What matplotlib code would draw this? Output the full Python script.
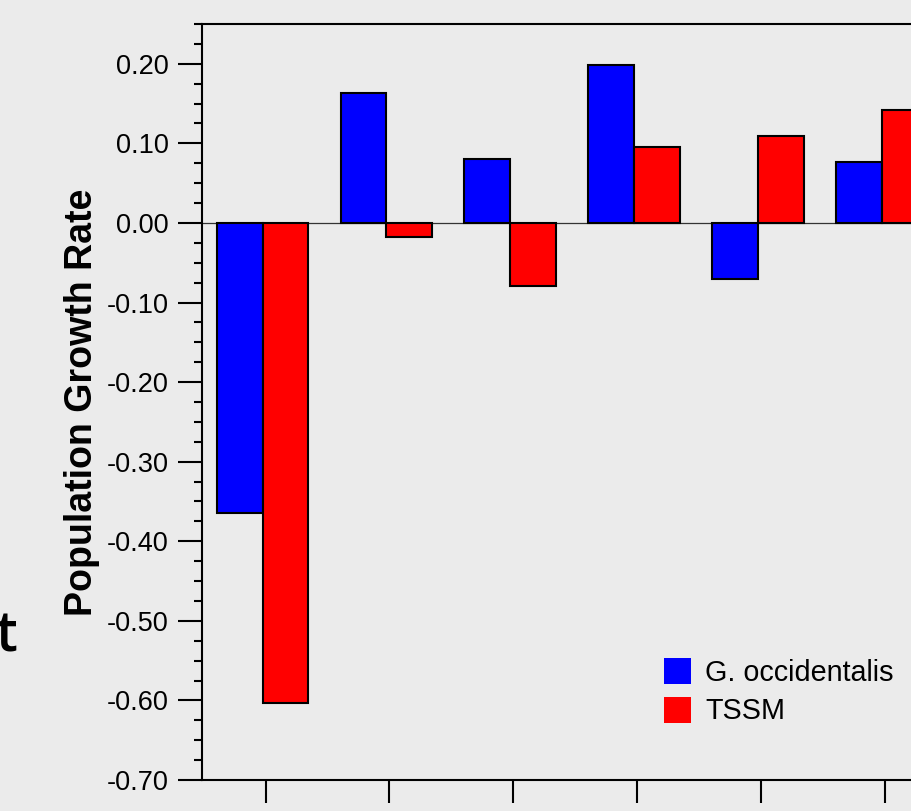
import matplotlib
matplotlib.use('Agg')
import matplotlib.pyplot as plt
from matplotlib.patches import Patch
from matplotlib.ticker import MultipleLocator, FormatStrFormatter
import numpy as np

plt.rcParams['font.family'] = ['Liberation Sans', 'DejaVu Sans']
plt.rcParams['axes.unicode_minus'] = False

groups = [0, 1, 2, 3, 4, 5]
g_occidentalis = [-0.365, 0.163, 0.080, 0.198, -0.071, 0.077]
tssm = [-0.603, -0.018, -0.079, 0.095, 0.109, 0.142]
series_names = ['G. occidentalis', 'TSSM']

bg = '#ebebeb'
fig = plt.figure(figsize=(9.12, 8.11), dpi=100, facecolor=bg)
ax = fig.add_axes([202 / 912, 31 / 811, 0.8843, 756 / 811], facecolor=bg)

x = np.array(groups)
w = 0.37
ax.axhline(0, color='#333333', lw=0.9, zorder=1)
ax.bar(x - 0.21, g_occidentalis, w, color='#0000ff', edgecolor='black', linewidth=1.5, zorder=2)
ax.bar(x + 0.16, tssm, w, color='#ff0000', edgecolor='black', linewidth=1.5, zorder=2)

ax.set_xlim(-0.5145, 6.0)
ax.set_ylim(-0.70, 0.25)

ax.yaxis.set_major_locator(MultipleLocator(0.1))
ax.yaxis.set_minor_locator(MultipleLocator(0.025))
ax.yaxis.set_major_formatter(FormatStrFormatter('%.2f'))
ax.set_xticks(groups)
ax.set_xticklabels([])

ax.tick_params(axis='y', which='major', direction='out', length=17, width=1.5, pad=7, labelsize=19.5)
ax.tick_params(axis='y', which='minor', direction='out', length=6, width=1.5)
ax.tick_params(axis='x', which='major', direction='out', length=16.5, width=1.5)

for s in ['left', 'top', 'bottom']:
    ax.spines[s].set_linewidth(1.5)
ax.spines['right'].set_visible(False)

ax.set_ylabel('Population Growth Rate', fontsize=27, fontweight='bold', labelpad=5)

handles = [Patch(facecolor='#0000ff', edgecolor='none'), Patch(facecolor='#ff0000', edgecolor='none')]
fig.legend(handles, series_names, loc='upper left', bbox_to_anchor=(664 / 912, 1 - 658 / 811),
           frameon=False, fontsize=20.7, handlelength=0.94, handleheight=1.0,
           handletextpad=0.5, labelspacing=0.35, borderpad=0, borderaxespad=0)

fig.text(18 / 912, 1 - 652 / 811, 't', family=['Open Sans', 'DejaVu Sans'], fontweight='semibold',
         fontsize=40, ha='right', va='baseline')

fig.savefig('out.png', dpi=100, facecolor=bg)
